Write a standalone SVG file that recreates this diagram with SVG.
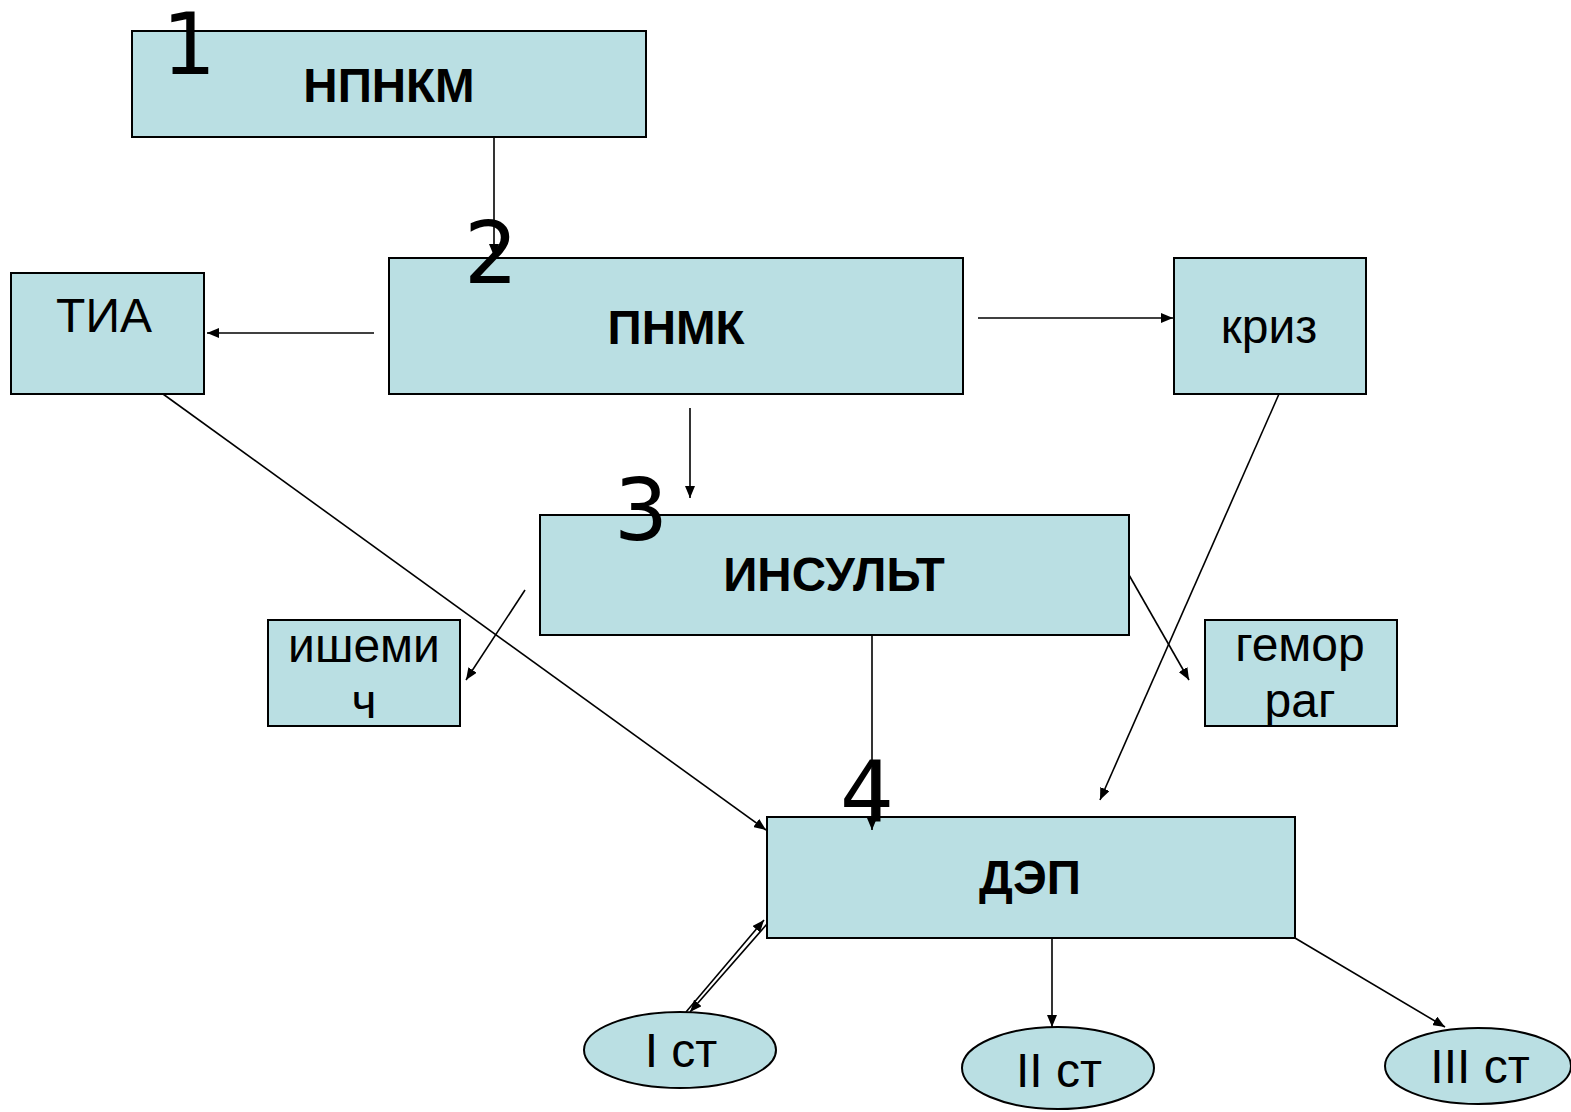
<svg xmlns="http://www.w3.org/2000/svg" width="1571" height="1112" viewBox="0 0 1571 1112">
<style>
.box{fill:#badfe3;stroke:#000;stroke-width:2}
.t{font-family:"Liberation Sans",Arial,sans-serif;font-size:48px;fill:#000;text-anchor:middle}
.b{font-weight:bold;font-size:47.5px}
.n{font-family:"DejaVu Sans",sans-serif;font-size:85px;fill:#000;text-anchor:middle}
.c{stroke:#000;stroke-width:1.6;fill:none;marker-end:url(#ah)}
</style>
<defs>
<marker id="ah" markerUnits="userSpaceOnUse" markerWidth="14" markerHeight="10" refX="12" refY="5" orient="auto">
<path d="M0,0 L12,5 L0,10 Z" fill="#000"/>
</marker>
</defs>
<rect width="1571" height="1112" fill="#fff"/>
<g id="n1"><rect class="box" x="132" y="31" width="514" height="106"/><text class="t b" x="389" y="102">НПНКМ</text></g>
<g id="tia"><rect class="box" x="11" y="273" width="193" height="121"/><text class="t" x="104" y="332">ТИА</text></g>
<g id="n2"><rect class="box" x="389" y="258" width="574" height="136"/><text class="t b" x="676" y="344">ПНМК</text></g>
<g id="kriz"><rect class="box" x="1174" y="258" width="192" height="136"/><text class="t" x="1269" y="343">криз</text></g>
<g id="n3"><rect class="box" x="540" y="515" width="589" height="120"/><text class="t b" x="834" y="591">ИНСУЛЬТ</text></g>
<g id="ish"><rect class="box" x="268" y="620" width="192" height="106"/><text class="t" x="364" y="662">ишеми</text><text class="t" x="364" y="718">ч</text></g>
<g id="gem"><rect class="box" x="1205" y="620" width="192" height="106"/><text class="t" x="1300" y="661">гемор</text><text class="t" x="1300" y="717">раг</text></g>
<g id="n4"><rect class="box" x="767" y="817" width="528" height="121"/><text class="t b" x="1030" y="894">ДЭП</text></g>
<g id="s1"><ellipse class="box" cx="680" cy="1050" rx="96" ry="38"/><text class="t" x="681" y="1067">I ст</text></g>
<g id="s2"><ellipse class="box" cx="1058" cy="1068" rx="96" ry="41"/><text class="t" x="1059" y="1087">II ст</text></g>
<g id="s3"><ellipse class="box" cx="1478" cy="1066" rx="93" ry="38"/><text class="t" x="1480" y="1083">III ст</text></g>
<g id="connectors">
<line class="c" x1="494" y1="137" x2="494" y2="256"/>
<line class="c" x1="374" y1="333" x2="207" y2="333"/>
<line class="c" x1="978" y1="318" x2="1173" y2="318"/>
<line class="c" x1="690" y1="408" x2="690" y2="498"/>
<line class="c" x1="163" y1="394" x2="766" y2="830"/>
<line class="c" x1="1279" y1="394" x2="1100" y2="800"/>
<line class="c" x1="525" y1="590" x2="466" y2="680"/>
<line class="c" x1="1129" y1="575" x2="1189" y2="680"/>
<line class="c" x1="872" y1="635" x2="872" y2="830"/>
<line class="c" x1="1052" y1="938" x2="1052" y2="1027"/>
<line class="c" x1="1295" y1="938" x2="1445" y2="1027"/>
<line class="c" x1="767" y1="924" x2="690" y2="1012"/>
<line class="c" x1="686" y1="1012" x2="764" y2="920"/>
</g>
<g id="numbers">
<text class="n" x="189" y="74">1</text>
<text class="n" x="491" y="283">2</text>
<text class="n" x="641" y="540">3</text>
<text class="n" x="867" y="822">4</text>
</g>
</svg>
